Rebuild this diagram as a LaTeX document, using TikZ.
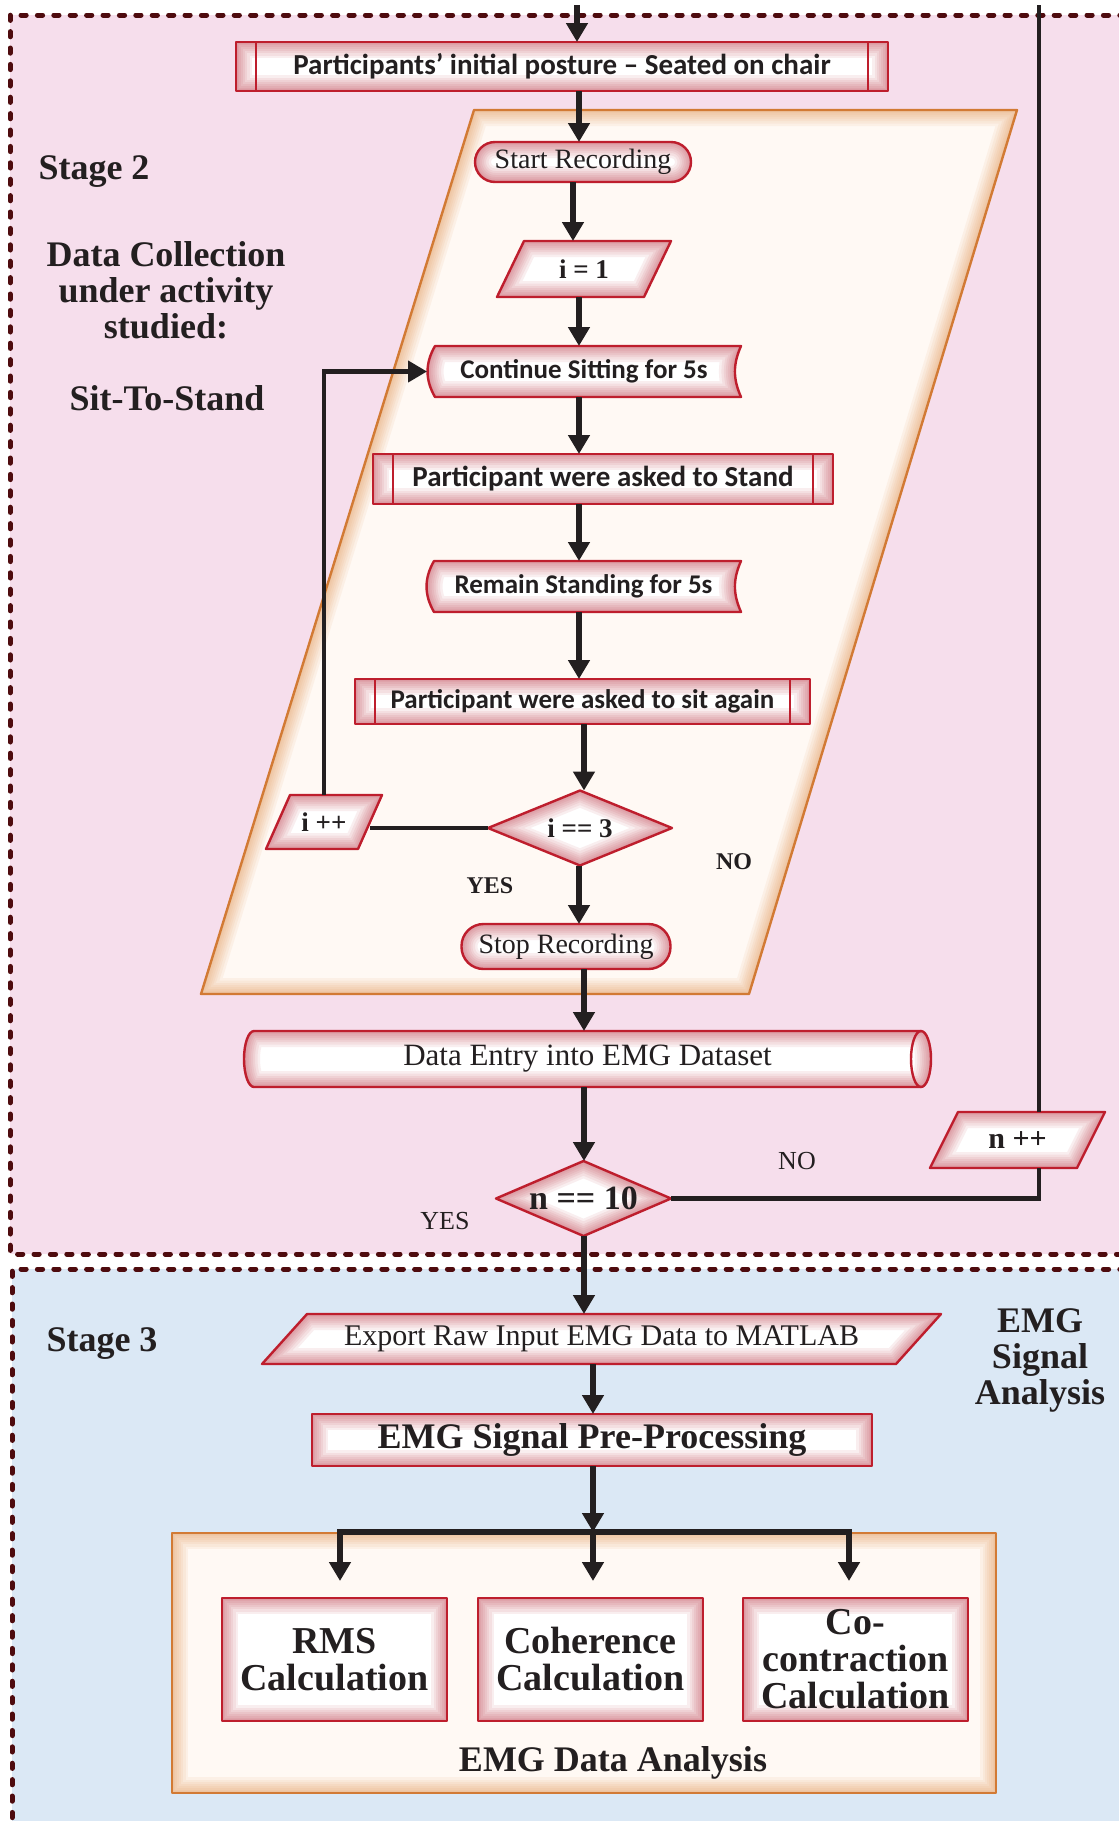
\documentclass[tikz,border=0pt]{standalone}
\usepackage{fontspec}
\setmainfont{Liberation Serif}
\newfontfamily\calib{Carlito}
\usetikzlibrary{arrows.meta,calc}

\definecolor{pinkbg}{HTML}{F6DEEC}
\definecolor{bluebg}{HTML}{DBE8F5}
\definecolor{dotc}{HTML}{4E0B0E}
\definecolor{boxred}{HTML}{BE1E2D}
\definecolor{glowred}{HTML}{C24858}
\definecolor{cream}{HTML}{FFF9F4}
\definecolor{orng}{HTML}{D27A34}
\definecolor{glowor}{HTML}{E39A5E}
\definecolor{ink}{HTML}{231F20}

\pgfdeclarelayer{back}
\pgfdeclarelayer{mid}
\pgfsetlayers{back,mid,main}

% filled outline with a soft inner glow along its border
\newcommand\glowfill[4]{%
  \fill[#1] #4;
  \begin{scope}
    \clip #4;
    \foreach \w in {16,13.5,11,9,7,5,3.2,1.6}
      \draw[#2, line width=\w pt, opacity=0.09] #4;
  \end{scope}
  \draw[#3, line width=1.2pt, line join=round] #4;
}
\newcommand\glowshape[1]{\glowfill{white}{glowred}{boxred}{#1}}

% flowchart symbols drawn around named nodes
\newcommand\rectbox[1]{\glowshape{(#1.south west) rectangle (#1.north east)}}
\newcommand\procbox[1]{\rectbox{#1}%
  \draw[boxred, line width=1.2pt] ($(#1.north west)+(20,0)$) -- ($(#1.south west)+(20,0)$)
     ($(#1.north east)+(-20,0)$) -- ($(#1.south east)+(-20,0)$);}
\newcommand\termbox[2]{\glowshape{[rounded corners=#2] (#1.south west) rectangle (#1.north east)}}
\newcommand\parabox[2]{\glowshape{(#1.south west) -- ($(#1.north west)+(#2,0)$) -- (#1.north east) -- ($(#1.south east)+(-#2,0)$) -- cycle}}
\newcommand\diabox[1]{\glowshape{(#1.north) -- (#1.east) -- (#1.south) -- (#1.west) -- cycle}}
\newcommand\storebox[1]{\glowshape{($(#1.north west)+(8,0)$) -- (#1.north east) to[bend right=24] (#1.south east) -- ($(#1.south west)+(8,0)$) to[bend left=30] ($(#1.north west)+(8,0)$) -- cycle}}
\newcommand\cylbox[1]{\glowshape{($(#1.north west)+(10,0)$) -- ($(#1.north east)+(-10,0)$) arc[start angle=90, end angle=-90, x radius=5pt, y radius=14pt] -- ($(#1.south west)+(10,0)$) arc[start angle=270, end angle=90, x radius=5pt, y radius=14pt] -- cycle}%
  \draw[boxred, line width=1.2pt] ($(#1.north east)+(-10,0)$) arc[start angle=90, end angle=270, x radius=5pt, y radius=14pt];}

\begin{document}
\begin{tikzpicture}[x=0.5pt, y=0.5pt,
  base/.style={inner sep=0pt, outer sep=0pt, align=center, text=ink},
  sz/.style 2 args={minimum width=#1*0.5pt, minimum height=#2*0.5pt},
  calL/.style={font=\calib\bfseries\fontsize{14.5}{17}\selectfont},
  calS/.style={font=\calib\bfseries\fontsize{13.5}{16}\selectfont},
  term/.style={font=\fontsize{14}{17}\selectfont},
  bold13/.style={font=\bfseries\fontsize{13.5}{16}\selectfont},
  calcbox/.style={font=\bfseries\fontsize{19}{18.5}\selectfont},
  lbl/.style={font=\bfseries\fontsize{18}{18}\selectfont},
  ynb/.style={font=\bfseries\fontsize{12}{14}\selectfont},
  ynr/.style={font=\fontsize{13}{15}\selectfont},
  flow/.style={draw=ink, line width=2.6pt, -{Triangle[width=10.5pt,length=9.5pt]}},
  link/.style={draw=ink, line width=2.1pt},
  dotline/.style={draw=dotc, line width=2.5pt, line cap=round, dash pattern=on 2.6pt off 5.6pt}
]
\useasboundingbox (0,0) rectangle (1119,-1821);

% ---------- flowchart nodes ----------
\node[base, sz={652}{49}, calL] (top) at (562,-66.5) {Participants’ initial posture – Seated on chair};
\node[base, sz={216}{40}, term] (start) at (583,-162) {Start Recording};
\node[base, sz={174}{56}, bold13] (i1) at (584,-269) {i = 1};
\node[base, sz={314}{51}, calS] (cont) at (584,-371.5) {Continue Sitting for 5s};
\node[base, sz={460}{50}, calL] (stand) at (603,-479) {Participant were asked to Stand};
\node[base, sz={315}{51}, calS] (remain) at (583.5,-586.5) {Remain Standing for 5s};
\node[base, sz={455}{45}, calS] (sit) at (582.5,-701.5) {Participant were asked to sit again};
\node[base, sz={184}{75}, bold13] (i3) at (580,-828) {i == 3};
\node[base, sz={116}{54}, bold13] (ipp) at (324,-822) {i ++};
\node[base, sz={209}{45}, term] (stop) at (566,-946.5) {Stop Recording};
\node[base, sz={687}{56}, font=\fontsize{15.5}{18}\selectfont] (data) at (587.5,-1059) {Data Entry into EMG Dataset};
\node[base, sz={175}{75}, font=\bfseries\fontsize{17}{20}\selectfont] (n10) at (583.5,-1198.5) {n == 10};
\node[base, sz={175}{56}, font=\bfseries\fontsize{15}{18}\selectfont] (npp) at (1017.5,-1140) {n ++};
\node[base, sz={679}{50}, font=\fontsize{15}{18}\selectfont] (export) at (601.5,-1339) {Export Raw Input EMG Data to MATLAB};
\node[base, sz={560}{52}, font=\bfseries\fontsize{18}{21}\selectfont] (pre) at (592,-1440) {EMG Signal Pre-Processing};
\node[base, sz={225}{123}, calcbox] (rms) at (334.5,-1659.5) {RMS\\Calculation};
\node[base, sz={225}{123}, calcbox] (coh) at (590.5,-1659.5) {Coherence\\Calculation};
\node[base, sz={225}{123}, calcbox] (cocon) at (855.5,-1659.5) {Co-\\contraction\\Calculation};

% ---------- side labels ----------
\node[base, lbl] (stage2) at (94,-172) {Stage 2};
\node[base, lbl] (collect) at (166,-290) {Data Collection\\under activity\\studied:};
\node[base, lbl] (activity) at (167,-398) {Sit-To-Stand};
\node[base, lbl] (stage3) at (102,-1344) {Stage 3};
\node[base, lbl] (signal) at (1040,-1360) {EMG\\Signal\\Analysis};
\node[base, lbl] (analysis) at (613,-1763) {EMG Data Analysis};
\node[base, ynb] (no1) at (734,-862) {NO};
\node[base, ynb] (yes1) at (490,-886) {YES};
\node[base, ynr] (no2) at (797,-1161) {NO};
\node[base, ynr] (yes2) at (445,-1221) {YES};

% ---------- backgrounds and frames ----------
\begin{pgfonlayer}{back}
  \fill[pinkbg] (10,-15) rectangle (1119,-1254);
  \fill[bluebg] (12,-1269) rectangle (1119,-1821);
  \draw[dotline] (1125,-15) -- (10,-15) -- (10,-1254) -- (1125,-1254);
  \draw[dotline] (1125,-1269) -- (12,-1269) -- (12,-1830);
  \glowfill{cream}{glowor}{orng}{(474,-110) -- (1017,-110) -- (749,-994) -- (201,-994) -- cycle}
  \glowfill{cream}{glowor}{orng}{(172,-1533) rectangle (996,-1793)}
\end{pgfonlayer}

% ---------- symbols ----------
\begin{pgfonlayer}{mid}
  \procbox{top}
  \termbox{start}{10pt}
  \parabox{i1}{27}
  \storebox{cont}
  \procbox{stand}
  \storebox{remain}
  \procbox{sit}
  \diabox{i3}
  \parabox{ipp}{24}
  \termbox{stop}{11pt}
  \cylbox{data}
  \diabox{n10}
  \parabox{npp}{28}
  \parabox{export}{45}
  \rectbox{pre}
  \rectbox{rms}
  \rectbox{coh}
  \rectbox{cocon}
\end{pgfonlayer}

% ---------- connectors ----------
\coordinate (tin) at (577,-5);
\coordinate (rin) at (1039,-5);
\coordinate (c0) at (573,0);
\coordinate (c1) at (579,0);
\coordinate (c2) at (584,0);
\coordinate (c3) at (593,0);
\draw[flow] (tin) -- (tin |- top.north);
\draw[flow] (top.south -| c1) -- (start.north -| c1);
\draw[flow] (start.south -| c0) -- (i1.north -| c0);
\draw[flow] (i1.south -| c1) -- (cont.north -| c1);
\draw[flow] (cont.south -| c1) -- (stand.north -| c1);
\draw[flow] (stand.south -| c1) -- (remain.north -| c1);
\draw[flow] (remain.south -| c1) -- (sit.north -| c1);
\draw[flow] (sit.south -| c2) -- (i3.north -| c2);
\draw[flow] (i3.south -| c1) -- (stop.north -| c1);
\draw[flow] (stop.south -| c2) -- (data.north -| c2);
\draw[flow] (data.south -| c2) -- (n10.north -| c2);
\draw[flow] (n10.south -| c2) -- (export.north -| c2);
\draw[flow] (export.south -| c3) -- (pre.north -| c3);

% inner loop: i == 3 -> i++ -> back to sitting
\coordinate (ippR) at ($(ipp.east)+(-12,0)$);
\draw[link] (i3.west) -- (ippR |- i3.west);
\draw[flow, line width=2.1pt] (ipp.north) |- (cont.west);

% outer loop: n == 10 -> n++ -> back to the start
\draw[link] (n10.east) -| (rin |- npp.south);
\draw[link, line width=2.4pt] (rin |- npp.north) -- (rin);

% branching into the three analyses
\coordinate (barL) at (340,-1532);
\coordinate (barM) at (593,-1532);
\coordinate (barR) at (849,-1532);
\draw[flow] (pre.south -| barM) -- (barM);
\draw[flow, shorten >=8.5pt] (barM) -| (barL |- rms.north);
\draw[flow, shorten >=8.5pt] (barM) -| (barR |- cocon.north);
\draw[flow, shorten >=8.5pt] (barM) -- (barM |- coh.north);
\end{tikzpicture}
\end{document}
